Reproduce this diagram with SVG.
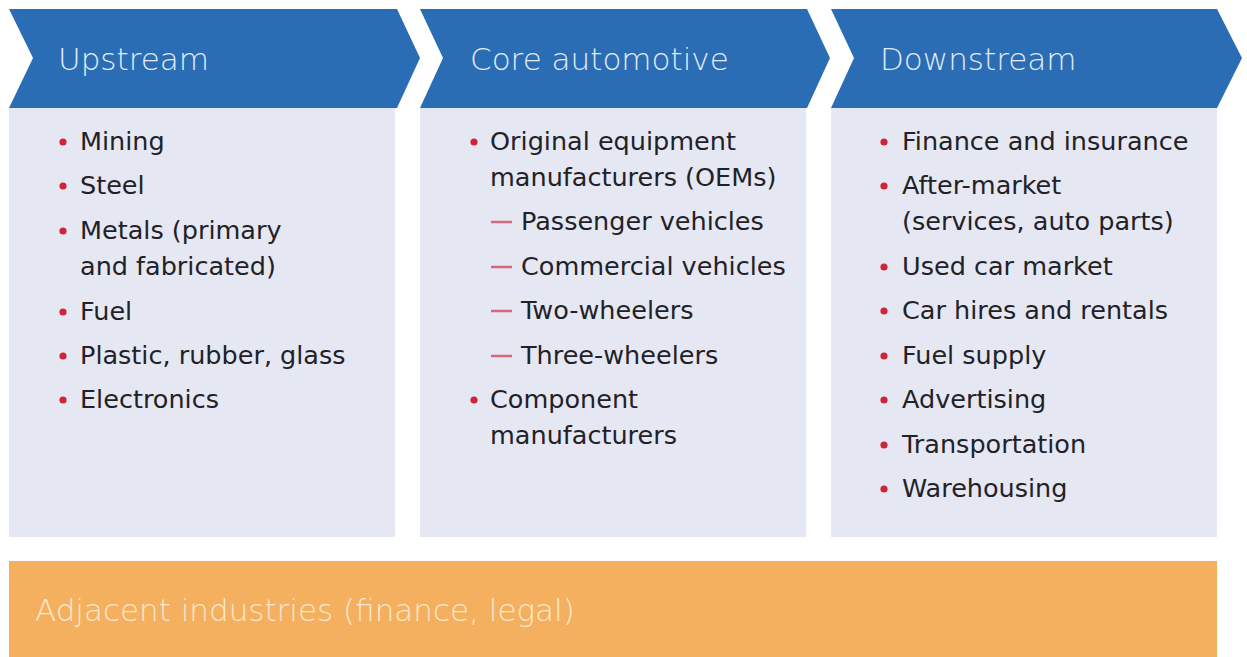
<svg xmlns="http://www.w3.org/2000/svg" width="1247" height="657" viewBox="0 0 1247 657">
<style>
.chev{fill:#2a6db5}
.panel{fill:#e5e7f3}
.hd{font-family:"DejaVu Sans","Liberation Sans",sans-serif;font-size:31px;font-weight:300;fill:#e3eaf5}
.tx{font-family:"DejaVu Sans","Liberation Sans",sans-serif;font-size:25.5px;fill:#222226}
.dot{fill:#cf2338}
.dash{stroke:#d8687b;stroke-width:2.5}
.adj{fill:#f4b05e}
.adjt{font-family:"DejaVu Sans","Liberation Sans",sans-serif;font-size:31px;font-weight:300;fill:#fbe8cf}
</style>
<rect width="1247" height="657" fill="#ffffff"/>
<g id="upstream">
<rect class="panel" x="9" y="108" width="386" height="429"/>
<polygon class="chev" points="9,9 397,9 420,58 397,108 9,108 33,58"/>
<text class="hd" x="58" y="70">Upstream</text>
<g class="tx">
<text x="80" y="150">Mining</text>
<text x="80" y="194">Steel</text>
<text x="80" y="239">Metals (primary</text>
<text x="80" y="275">and fabricated)</text>
<text x="80" y="320">Fuel</text>
<text x="80" y="364">Plastic, rubber, glass</text>
<text x="80" y="408">Electronics</text>
</g>
<g class="dot">
<circle cx="63" cy="142" r="3.6"/>
<circle cx="63" cy="186" r="3.6"/>
<circle cx="63" cy="231" r="3.6"/>
<circle cx="63" cy="312" r="3.6"/>
<circle cx="63" cy="356" r="3.6"/>
<circle cx="63" cy="400" r="3.6"/>
</g>
</g>
<g id="core">
<rect class="panel" x="420" y="108" width="386" height="429"/>
<polygon class="chev" points="420,9 807,9 830,58 807,108 420,108 443,58"/>
<text class="hd" x="470" y="70">Core automotive</text>
<g class="tx">
<text x="490" y="150">Original equipment</text>
<text x="490" y="186">manufacturers (OEMs)</text>
<text x="521" y="230">Passenger vehicles</text>
<text x="521" y="275">Commercial vehicles</text>
<text x="521" y="319">Two-wheelers</text>
<text x="521" y="364">Three-wheelers</text>
<text x="490" y="408">Component</text>
<text x="490" y="444">manufacturers</text>
</g>
<g class="dot">
<circle cx="474" cy="142" r="3.6"/>
<circle cx="474" cy="400" r="3.6"/>
</g>
<g class="dash">
<line x1="491" y1="222" x2="512" y2="222"/>
<line x1="491" y1="267" x2="512" y2="267"/>
<line x1="491" y1="311" x2="512" y2="311"/>
<line x1="491" y1="356" x2="512" y2="356"/>
</g>
</g>
<g id="downstream">
<rect class="panel" x="831" y="108" width="386" height="429"/>
<polygon class="chev" points="831,9 1217,9 1242,58 1217,108 831,108 854,58"/>
<text class="hd" x="880" y="70">Downstream</text>
<g class="tx">
<text x="902" y="150">Finance and insurance</text>
<text x="902" y="194">After-market</text>
<text x="902" y="230">(services, auto parts)</text>
<text x="902" y="275">Used car market</text>
<text x="902" y="319">Car hires and rentals</text>
<text x="902" y="364">Fuel supply</text>
<text x="902" y="408">Advertising</text>
<text x="902" y="453">Transportation</text>
<text x="902" y="497">Warehousing</text>
</g>
<g class="dot">
<circle cx="884" cy="142" r="3.6"/>
<circle cx="884" cy="186" r="3.6"/>
<circle cx="884" cy="267" r="3.6"/>
<circle cx="884" cy="311" r="3.6"/>
<circle cx="884" cy="356" r="3.6"/>
<circle cx="884" cy="400" r="3.6"/>
<circle cx="884" cy="445" r="3.6"/>
<circle cx="884" cy="489" r="3.6"/>
</g>
</g>
<g id="adjacent">
<rect class="adj" x="9" y="561" width="1208" height="96"/>
<text class="adjt" x="35" y="621">Adjacent industries (finance, legal)</text>
</g>
<g id="connectors"></g>
</svg>
